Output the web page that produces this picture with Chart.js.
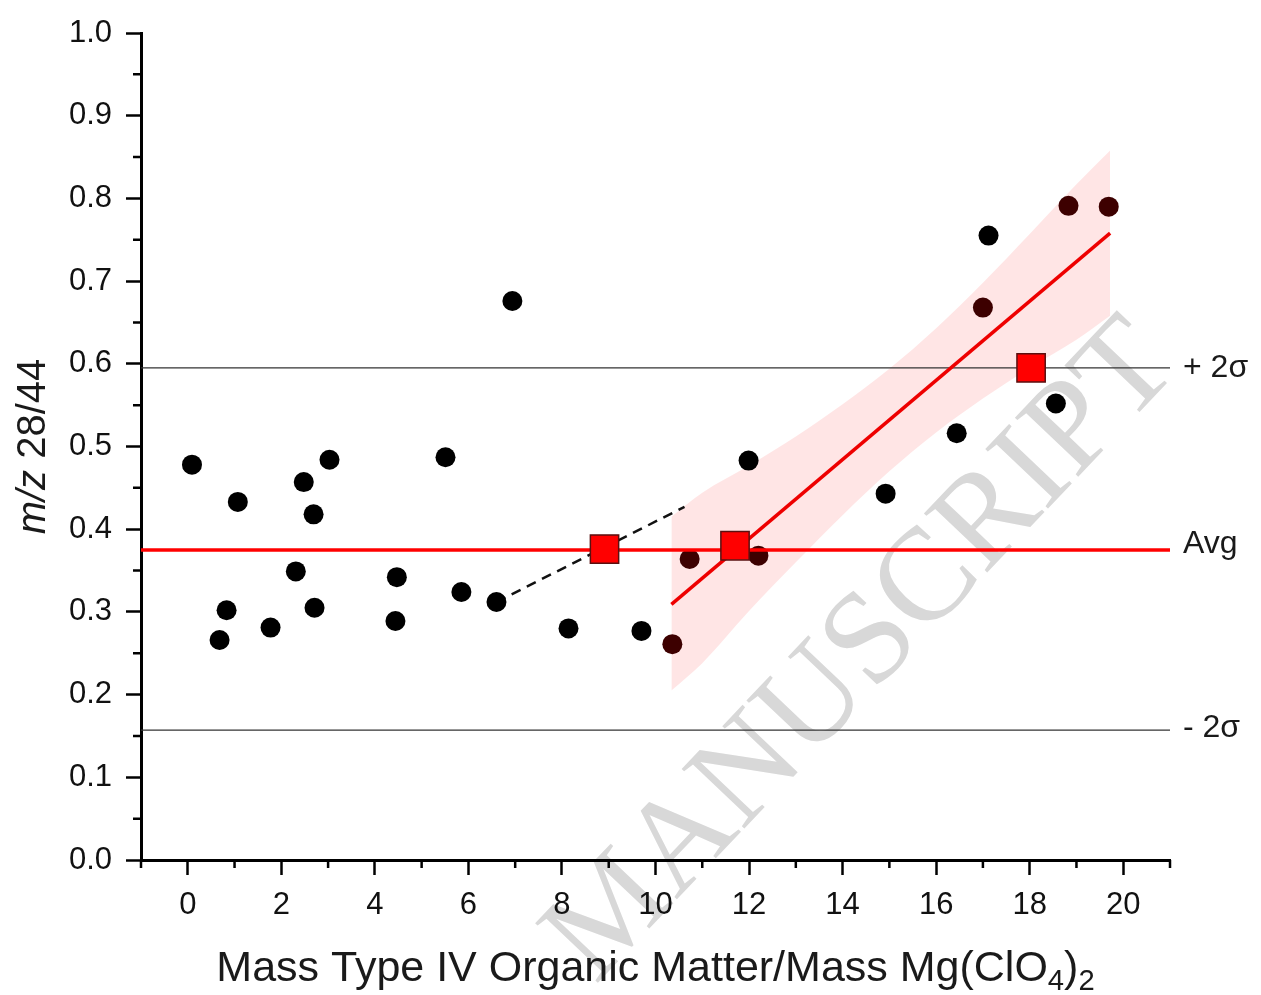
<!DOCTYPE html>
<html>
<head>
<meta charset="utf-8">
<title>m/z 28/44 vs Type IV organic matter</title>
<script src="https://cdn.jsdelivr.net/npm/chart.js@4.4.1/dist/chart.umd.min.js"></script>
<style>
  html, body { margin: 0; padding: 0; background: #fff; }
  canvas { display: block; }
</style>
</head>
<body>
<canvas id="chart" width="1261" height="995"></canvas>
<script>
// measured samples (black dots)
const pointX = [0.09, 0.68, 0.83, 1.07, 1.77, 2.31, 2.48, 2.69, 2.71, 3.03, 4.44, 4.47, 5.51, 5.85, 6.60, 6.94, 8.14, 9.70, 10.36, 10.73, 11.99, 12.20, 14.92, 16.44, 17.00, 17.12, 18.56, 18.83, 19.69];
const pointY = [0.478, 0.266, 0.302, 0.433, 0.281, 0.349, 0.457, 0.418, 0.305, 0.484, 0.289, 0.342, 0.487, 0.324, 0.312, 0.676, 0.280, 0.277, 0.261, 0.364, 0.483, 0.368, 0.443, 0.516, 0.668, 0.755, 0.552, 0.791, 0.790];

// red squares
const squareX = [8.91, 11.70, 18.03];
const squareY = [0.376, 0.380, 0.595];

// reference levels
const avgLevel = 0.375;
const plus2Sigma = 0.595;
const minus2Sigma = 0.157;

// linear fit + confidence band
const fitX = [10.34, 19.72];
const fitY = [0.309, 0.758];
const bandX = [10.34, 11, 12, 13, 14, 15, 16, 17, 18, 19, 19.72];
const bandUpper = [0.415, 0.444, 0.477, 0.512, 0.551, 0.594, 0.643, 0.698, 0.757, 0.817, 0.858];
const bandLower = [0.205, 0.238, 0.301, 0.360, 0.417, 0.470, 0.517, 0.558, 0.595, 0.629, 0.658];

// dashed extension
const dashX = [6.60, 10.62];
const dashY = [0.312, 0.427];

// axis ticks
const xMajor = [0, 2, 4, 6, 8, 10, 12, 14, 16, 18, 20];
const xMinor = [-1, 1, 3, 5, 7, 9, 11, 13, 15, 17, 19, 21];
const yMajor = [0, 0.1, 0.2, 0.3, 0.4, 0.5, 0.6, 0.7, 0.8, 0.9, 1.0];
const yMinor = [0.05, 0.15, 0.25, 0.35, 0.45, 0.55, 0.65, 0.75, 0.85, 0.95];

const FONT = "'Liberation Sans', Arial, sans-serif";

function xy(xs, ys) {
    return xs.map((x, i) => ({ x: x, y: ys[i] }));
}

function bandAt(x, ys) {
    for (let i = 0; i < bandX.length - 1; i++) {
        if (x >= bandX[i] && x <= bandX[i + 1]) {
            const t = (x - bandX[i]) / (bandX[i + 1] - bandX[i]);
            return ys[i] + t * (ys[i + 1] - ys[i]);
        }
    }
    return null;
}

function insideBand(p) {
    if (!p) return false;
    const hi = bandAt(p.x, bandUpper);
    const lo = bandAt(p.x, bandLower);
    return hi !== null && p.y <= hi && p.y >= lo;
}

function hline(level) {
    return [{ x: -1, y: level }, { x: 21, y: level }];
}

// draws text made of pieces (italic / subscript)
function drawPieces(ctx, pieces, size, startX, baseY) {
    let x = startX;
    pieces.forEach(p => {
        const s = p.sub ? size * 0.68 : size;
        ctx.font = (p.italic ? 'italic ' : '') + s + 'px ' + FONT;
        ctx.fillText(p.t, x, baseY + (p.sub ? size * 0.22 : 0));
        x += ctx.measureText(p.t).width;
    });
}

function piecesWidth(ctx, pieces, size) {
    let w = 0;
    pieces.forEach(p => {
        const s = p.sub ? size * 0.68 : size;
        ctx.font = (p.italic ? 'italic ' : '') + s + 'px ' + FONT;
        w += ctx.measureText(p.t).width;
    });
    return w;
}

const extras = {
    id: 'extras',
    beforeDraw(chart) {
        // faint watermark, behind everything
        const ctx = chart.ctx;
        ctx.save();
        ctx.translate(863, 653);
        ctx.rotate(-46.5 * Math.PI / 180);
        ctx.font = "132px 'Liberation Serif', 'DejaVu Serif', serif";
        ctx.fillStyle = '#d8d8d8';
        ctx.textAlign = 'center';
        ctx.textBaseline = 'middle';
        ctx.fillText('MANUSCRIPT', 0, 0);
        ctx.restore();
    },
    afterDraw(chart) {
        const ctx = chart.ctx;
        const area = chart.chartArea;
        const xs = chart.scales.x;
        const ys = chart.scales.y;
        ctx.save();

        // minor ticks
        ctx.strokeStyle = '#000';
        ctx.lineWidth = 2.5;
        ctx.beginPath();
        xMinor.forEach(v => {
            const px = xs.getPixelForValue(v);
            ctx.moveTo(px, area.bottom);
            ctx.lineTo(px, area.bottom + 8);
        });
        yMinor.forEach(v => {
            const py = ys.getPixelForValue(v);
            ctx.moveTo(area.left, py);
            ctx.lineTo(area.left - 8, py);
        });
        ctx.stroke();

        // level labels
        ctx.fillStyle = '#1a1a1a';
        ctx.font = '32px ' + FONT;
        ctx.textAlign = 'left';
        ctx.textBaseline = 'middle';
        const lx = area.right + 13;
        ctx.fillText('+ 2\u03C3', lx, ys.getPixelForValue(plus2Sigma));
        ctx.fillText('Avg', lx, ys.getPixelForValue(avgLevel) - 6);
        ctx.fillText('- 2\u03C3', lx, ys.getPixelForValue(minus2Sigma) - 2);

        // x axis title
        ctx.textBaseline = 'alphabetic';
        const xTitle = [
            { t: 'Mass Type IV Organic Matter/Mass Mg(ClO' },
            { t: '4', sub: true },
            { t: ')' },
            { t: '2', sub: true }
        ];
        const xSize = 43;
        const xw = piecesWidth(ctx, xTitle, xSize);
        drawPieces(ctx, xTitle, xSize, (area.left + area.right) / 2 - xw / 2, chart.height - 14);

        // y axis title
        const yTitle = [{ t: 'm/z', italic: true }, { t: ' 28/44' }];
        const ySize = 40;
        ctx.translate(45, (area.top + area.bottom) / 2);
        ctx.rotate(-Math.PI / 2);
        const yw = piecesWidth(ctx, yTitle, ySize);
        drawPieces(ctx, yTitle, ySize, -yw / 2, 0);

        ctx.restore();
    }
};

const tickFont = { family: FONT, size: 31 };

new Chart(document.getElementById('chart'), {
    type: 'scatter',
    data: {
        datasets: [
            {
                label: 'avg squares',
                data: xy(squareX, squareY),
                pointStyle: 'rect',
                pointRadius: 20,
                backgroundColor: '#ff0000',
                borderColor: '#5a1010',
                borderWidth: 1.5,
                order: 0
            },
            {
                label: 'fit',
                type: 'line',
                data: xy(fitX, fitY),
                borderColor: '#ee0000',
                borderWidth: 3.5,
                pointRadius: 0,
                fill: false,
                order: 1
            },
            {
                label: 'Avg',
                type: 'line',
                data: hline(avgLevel),
                borderColor: '#ff0000',
                borderWidth: 3.5,
                pointRadius: 0,
                fill: false,
                order: 2
            },
            {
                label: 'samples',
                data: xy(pointX, pointY),
                pointRadius: 10,
                pointBackgroundColor: c => insideBand(c.raw) ? '#3d0000' : '#000',
                pointBorderColor: c => insideBand(c.raw) ? '#3d0000' : '#000',
                borderWidth: 0,
                order: 3
            },
            {
                label: 'trend',
                type: 'line',
                data: xy(dashX, dashY),
                borderColor: '#111',
                borderWidth: 2.5,
                borderDash: [10, 7],
                pointRadius: 0,
                fill: false,
                order: 4
            },
            {
                label: '+2s',
                type: 'line',
                data: hline(plus2Sigma),
                borderColor: '#333',
                borderWidth: 1.2,
                pointRadius: 0,
                fill: false,
                order: 5
            },
            {
                label: '-2s',
                type: 'line',
                data: hline(minus2Sigma),
                borderColor: '#333',
                borderWidth: 1.2,
                pointRadius: 0,
                fill: false,
                order: 5
            },
            {
                label: 'band upper',
                type: 'line',
                data: xy(bandX, bandUpper),
                borderWidth: 0,
                borderColor: 'rgba(0,0,0,0)',
                backgroundColor: 'rgba(255,0,0,0.1)',
                pointRadius: 0,
                cubicInterpolationMode: 'monotone',
                fill: '+1',
                order: 6
            },
            {
                label: 'band lower',
                type: 'line',
                data: xy(bandX, bandLower),
                borderWidth: 0,
                borderColor: 'rgba(0,0,0,0)',
                pointRadius: 0,
                cubicInterpolationMode: 'monotone',
                fill: false,
                order: 6
            }
        ]
    },
    options: {
        responsive: false,
        animation: false,
        events: [],
        layout: { padding: { top: 33, right: 91, left: 0, bottom: 0 } },
        plugins: {
            legend: { display: false },
            tooltip: { enabled: false }
        },
        scales: {
            x: {
                type: 'linear',
                min: -1,
                max: 21,
                afterBuildTicks: s => { s.ticks = xMajor.map(v => ({ value: v })); },
                afterFit: s => { s.height = 135; },
                grid: { drawOnChartArea: false, tickLength: 15, tickWidth: 2.5, tickColor: '#000' },
                border: { display: true, color: '#000', width: 3 },
                ticks: { font: tickFont, color: '#111', padding: 12, maxRotation: 0, callback: v => String(v) }
            },
            y: {
                type: 'linear',
                min: 0,
                max: 1,
                afterBuildTicks: s => { s.ticks = yMajor.map(v => ({ value: v })); },
                afterFit: s => { s.width = 141; },
                grid: { drawOnChartArea: false, tickLength: 15, tickWidth: 2.5, tickColor: '#000' },
                border: { display: true, color: '#000', width: 3 },
                ticks: { font: tickFont, color: '#111', padding: 14, callback: v => v.toFixed(1) }
            }
        }
    },
    plugins: [extras]
});
</script>
</body>
</html>
